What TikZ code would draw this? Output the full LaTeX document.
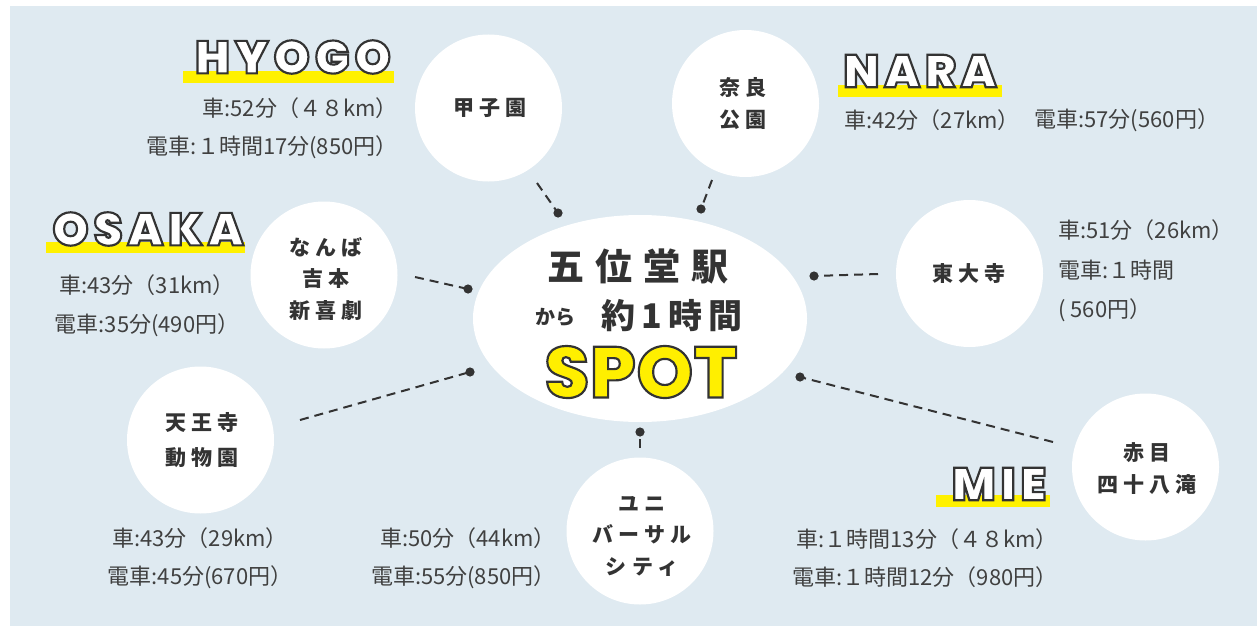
\documentclass[tikz,border=0pt]{standalone}
\usepackage{fontspec}
\setmainfont{Noto Sans CJK JP}
\newfontfamily\popo{Poppins Black}[LetterSpace=11, FakeBold=4.7]
\newfontfamily\popspot{Poppins ExtraBold}[LetterSpace=1, FakeBold=3]
\newfontfamily\jpsp{Noto Sans CJK JP}[LetterSpace=25]
\newfontfamily\jpcen{Noto Sans CJK JP}[LetterSpace=30]
\newfontfamily\jpmid{Noto Sans CJK JP}[LetterSpace=18]
\usetikzlibrary{shapes.geometric,calc}
\definecolor{bgblue}{HTML}{DFEAF1}
\definecolor{ink}{HTML}{333333}
\definecolor{infogray}{HTML}{404040}
\definecolor{ybar}{HTML}{FFF100}
\definecolor{yspot}{HTML}{FFEF00}
\newcommand\inkstroke{\special{pdf:code 0.2 0.2 0.2 RG}}
\tikzset{
  spotcircle/.style={circle, fill=white, minimum size=73.5pt, inner sep=0pt},
  spotlabel/.style={font=\jpsp\bfseries\fontsize{10.5pt}{16pt}\selectfont, text=ink, align=center, inner sep=0pt},
  info/.style={font=\fontsize{11pt}{13pt}\selectfont, text=infogray, inner sep=0pt},
  conn/.style={draw=ink, line width=1pt, dash pattern=on 4.5pt off 3pt},
  pin/.style={circle, fill=ink, minimum size=4.6pt, inner sep=0pt},
  title/.style={font=\popo\fontsize{23pt}{23pt}\selectfont, text=white, inner sep=0pt},
  titlebar/.style={fill=ybar},
}
\begin{document}
\begin{tikzpicture}[x=0.5pt, y=-0.5pt]
\useasboundingbox (0,0) rectangle (1257,626);
\fill[bgblue] (10,6) rectangle (1257,626);

% hub ellipse
\node[ellipse, fill=white, minimum width=167pt, minimum height=103.5pt, inner sep=0pt] (hub) at (640,318.5) {};
\node[font=\jpcen\bfseries\fontsize{18.5pt}{18.5pt}\selectfont, text=ink, inner sep=0pt] (gojo) at (638,266) {五位堂駅};
\node[font=\bfseries\fontsize{10pt}{10pt}\selectfont, text=ink, inner sep=0pt] (kara) at (555,317) {から};
\node[font=\jpmid\bfseries\fontsize{17pt}{17pt}\selectfont, text=ink, inner sep=0pt] (yaku) at (672,316) {約1時間};
\node[font=\popspot\fontsize{36pt}{36pt}\selectfont, text=yspot, inner sep=0pt] (spot) at (641,372) {\inkstroke SPOT};

% spot circles
\node[spotcircle] (koshien) at (488.5,108) {};
\node[spotcircle] (nara) at (745.5,103.5) {};
\node[spotcircle] (todaiji) at (969.5,273.5) {};
\node[spotcircle] (namba) at (324,275) {};
\node[spotcircle] (tennoji) at (200.5,440) {};
\node[spotcircle] (usj) at (640,531) {};
\node[spotcircle] (akame) at (1145.5,467) {};

\node[spotlabel] (koshienL) at (490,108) {甲子園};
\node[spotlabel] (naraL) at (743,104) {奈良\\公園};
\node[spotlabel] (todaijiL) at (969,273) {東大寺};
\node[spotlabel, font=\jpsp\bfseries\fontsize{10.5pt}{15.75pt}\selectfont] (nambaL) at (326,279) {なんば\\吉本\\新喜劇};
\node[spotlabel, font=\jpsp\bfseries\fontsize{10.5pt}{17.5pt}\selectfont] (tennojiL) at (202,440) {天王寺\\動物園};
\node[spotlabel, font=\jpsp\bfseries\fontsize{10.5pt}{15.75pt}\selectfont] (usjL) at (642,536) {ユニ\\バーサル\\シティ};
\node[spotlabel] (akameL) at (1147,469) {赤目\\四十八滝};

% connectors
\node[pin] (p1) at (558,213) {};
\node[pin] (p2) at (701,209) {};
\node[pin] (p3) at (468,289) {};
\node[pin] (p4) at (470,372) {};
\node[pin] (p5) at (640,432) {};
\node[pin] (p6) at (814,276) {};
\node[pin] (p7) at (800,377) {};
\coordinate (s1) at (537,183);
\coordinate (s2) at (712,180);
\coordinate (s3) at (415,277);
\coordinate (s4) at (300,420);
\coordinate (s5) at (640,448);
\coordinate (s6) at (878,274);
\coordinate (s7) at (1053,442);
\draw[conn] (s1) -- (p1.center);
\draw[conn] (s2) -- (p2.center);
\draw[conn] (s3) -- (p3.center);
\draw[conn] (s4) -- (p4.center);
\draw[conn] (s5) -- (p5.center);
\draw[conn] (s6) -- (p6.center);
\draw[conn] (s7) -- (p7.center);

% titles
\fill[titlebar] (183,71) rectangle (394,83);
\node[title] (hyogo) at (293,57) {\inkstroke HYOGO};
\fill[titlebar] (46,242) rectangle (245,253);
\node[title] (osaka) at (148,229) {\inkstroke OSAKA};
\fill[titlebar] (838,85) rectangle (1002,97);
\node[title] (naraT) at (920,71) {\inkstroke NARA};
\fill[titlebar] (936,495) rectangle (1050,507);
\node[title] (mie) at (999,484) {\inkstroke MIE};

% info texts
\node[info, anchor=east] (h1) at (398,108) {車:52分（４８km）};
\node[info, anchor=east] (h2) at (398,147) {電車:１時間17分(850円）};
\node[info, anchor=west] (n1) at (844,120) {車:42分（27km）};
\node[info, anchor=west] (n2) at (1034,120) {電車:57分(560円）};
\node[info, anchor=west] (t1) at (1058,230) {車:51分（26km）};
\node[info, anchor=west] (t2) at (1058,270) {電車:１時間};
\node[info, anchor=west] (t3) at (1058,310) {( 560円）};
\node[info] (o1) at (147,285) {車:43分（31km）};
\node[info] (o2) at (147,325) {電車:35分(490円）};
\node[info] (z1) at (200,538) {車:43分（29km）};
\node[info] (z2) at (200,577) {電車:45分(670円）};
\node[info, anchor=east] (u1) at (556,538) {車:50分（44km）};
\node[info, anchor=east] (u2) at (556,577) {電車:55分(850円）};
\node[info, anchor=east] (m1) at (1058,539) {車:１時間13分（４８km）};
\node[info, anchor=east] (m2) at (1058,577) {電車:１時間12分（980円）};
\end{tikzpicture}
\end{document}
